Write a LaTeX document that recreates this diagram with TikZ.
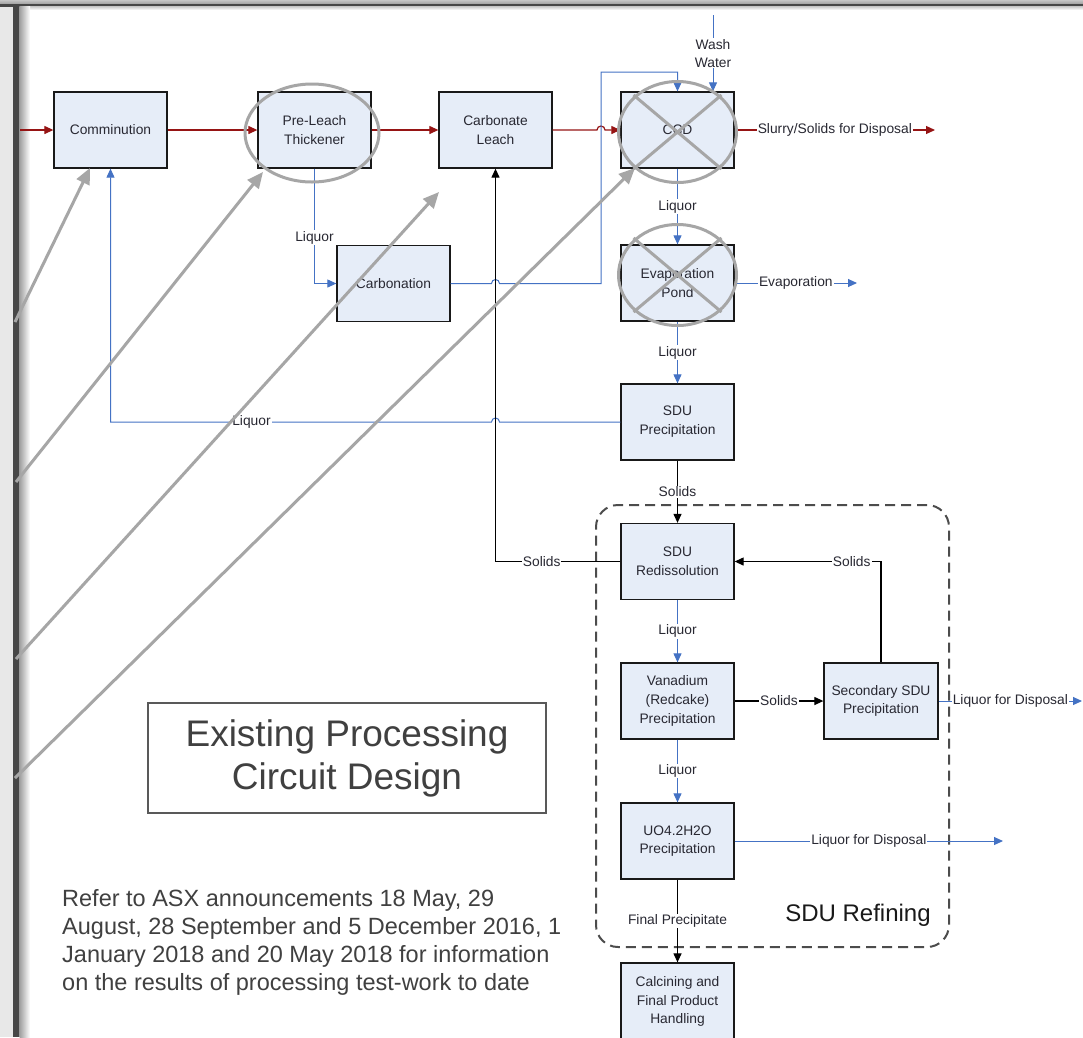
\documentclass[tikz,border=0pt]{standalone}
\usepackage{fontspec}
\setmainfont{Liberation Sans}
\usetikzlibrary{arrows.meta,shapes.geometric}
\definecolor{boxfill}{RGB}{230,237,248}
\definecolor{redc}{RGB}{150,20,20}
\definecolor{bluec}{RGB}{68,114,196}
\definecolor{annotc}{RGB}{166,166,166}
\definecolor{txtc}{RGB}{40,40,50}
\definecolor{gtxtc}{RGB}{64,64,64}
\begin{document}
\begin{tikzpicture}[x=1pt,y=-1pt,
  procbox/.style={draw=black!90, fill=boxfill, line width=1.3pt, minimum width=113pt, minimum height=76pt, inner sep=0pt, align=center, font=\fontsize{13.8}{18.8}\selectfont, text=txtc},
  lbl/.style={fill=white, inner sep=1pt, font=\fontsize{13.8}{18}\selectfont, text=txtc},
  redarrow/.style={draw=redc, line width=1.2pt, -{Triangle[length=9pt,width=8pt]}},
  bluearrow/.style={draw=bluec, line width=1pt, -{Triangle[length=9pt,width=8pt]}},
  blackarrow/.style={draw=black, line width=1.2pt, -{Triangle[length=9pt,width=8pt]}},
  annotline/.style={draw=annotc, line width=3pt},
  annotarrow/.style={draw=annotc, line width=3pt, -{Triangle[length=16pt,width=14pt]}},
  dashbox/.style={draw=black!70, line width=2pt, dash pattern=on 10pt off 6pt, rounded corners=22pt},
]
\useasboundingbox (0,0) rectangle (1083,1037);
\fill[white] (0,0) rectangle (1083,1037);
% window frame
\shade[top color=gray!45, bottom color=gray!75] (0,0) rectangle (1083,4);
\fill[black!72] (0,4) rectangle (1083,6.5);
\shade[top color=gray!40, bottom color=white] (19.5,6.5) rectangle (1083,10);
\fill[black!9] (0,6.5) rectangle (13,1037);
\fill[black!72] (13,6.5) rectangle (19.5,1037);
\shade[left color=gray!75, right color=white] (19.5,6.5) rectangle (30,1037);

% dashed refining group
\node[dashbox, minimum width=353pt, minimum height=442pt] (refbox) at (772.5,726) {};
\node[font=\fontsize{24}{28}\selectfont, text=black!90] (reflbl) at (858,915) {SDU Refining};

% process boxes
\node[procbox] (comm) at (110.5,130) {Comminution};
\node[procbox] (plt) at (314.5,130) {Pre-Leach\\Thickener};
\node[procbox] (cl) at (495.5,130) {Carbonate\\Leach};
\node[procbox] (ccd) at (677.5,130) {CCD};
\node[procbox] (carb) at (393.5,283.5) {Carbonation};
\node[procbox] (evap) at (677.5,283) {Evaporation\\Pond};
\node[procbox] (sdup) at (677.5,422) {SDU\\Precipitation};
\node[procbox] (sdur) at (677.5,561.5) {SDU\\Redissolution};
\node[procbox] (van) at (677.5,701) {Vanadium\\(Redcake)\\Precipitation};
\node[procbox, minimum width=114pt] (sec) at (881,701) {Secondary SDU\\Precipitation};
\node[procbox] (uo4) at (677.5,841) {UO4.2H2O\\Precipitation};
\node[procbox, minimum height=77pt] (calc) at (677.5,1001.5) {Calcining and\\Final Product\\Handling};

% free ends
\coordinate (rin) at (20,130);
\coordinate (slout) at (935,130);
\coordinate (wwtop) at (713,15);
\coordinate (evout) at (857,283);
\coordinate (secout) at (1082,701);
\coordinate (uoout) at (1003,841);

% red slurry line
\draw[redarrow] (rin) -- (comm.west);
\draw[redarrow] (comm.east) -- (plt.west);
\draw[redarrow] (plt.east) -- (cl.west);
\draw[redarrow] (cl.east) -- (597,130) arc[start angle=180,end angle=0,radius=4pt] -- (ccd.west);
\draw[redarrow] (ccd.east) -- node[lbl] (l1) {Slurry/Solids for Disposal} (slout);

% blue liquor lines
\draw[bluearrow] (wwtop) -- node[lbl, align=center] (l2) {Wash\\Water} (wwtop |- ccd.north);
\draw[bluearrow] (carb.east) -- (491.5,283.5) arc[start angle=180,end angle=0,radius=4pt] -- (601,283.5) -- (601,72) -- (677.5,72) -- (ccd.north);
\draw[bluearrow] (plt.south) |- node[lbl, pos=0.3] (l3) {Liquor} (carb.west);
\draw[bluearrow] (ccd.south) -- node[lbl] (l4) {Liquor} (evap.north);
\draw[bluearrow] (evap.east) -- node[lbl] (l5) {Evaporation} (evout);
\draw[bluearrow] (evap.south) -- node[lbl] (l6) {Liquor} (sdup.north);
\draw[bluearrow] (sdup.west) -- (499.5,422) arc[start angle=0,end angle=180,radius=4pt] -- node[lbl, pos=0.63] (l7) {Liquor} (110.5,422) -- (comm.south);
\draw[bluearrow] (sdur.south) -- node[lbl] (l8) {Liquor} (van.north);
\draw[bluearrow] (van.south) -- node[lbl] (l9) {Liquor} (uo4.north);
\draw[bluearrow] (sec.east) -- node[lbl] (l10) {Liquor for Disposal} (secout);
\draw[bluearrow] (uo4.east) -- node[lbl] (l11) {Liquor for Disposal} (uoout);

% black solids lines
\draw[blackarrow] (sdup.south) -- node[lbl] (l12) {Solids} (sdur.north);
\draw[blackarrow] (sdur.west) -| node[lbl, pos=0.315] (l13) {Solids} (cl.south);
\draw[blackarrow] (sec.north) |- node[lbl, pos=0.6] (l14) {Solids} (sdur.east);
\draw[blackarrow] (van.east) -- node[lbl] (l15) {Solids} (sec.west);
\draw[blackarrow] (uo4.south) -- node[lbl] (l16) {Final Precipitate} (calc.north);

% title and note
\node[draw=black!65, line width=1.2pt, minimum width=398pt, minimum height=110pt, align=center, font=\fontsize{37}{43}\selectfont, text=gtxtc] (title) at (347,758) {Existing Processing\\Circuit Design};
\node[anchor=north west, align=left, inner sep=0pt, font=\fontsize{23.5}{28}\selectfont, text=gtxtc] (note) at (62,889) {Refer to ASX announcements 18 May, 29\\August, 28 September and 5 December 2016, 1\\January 2018 and 20 May 2018 for information\\on the results of processing test-work to date};

% grey annotations
\draw[annotline] (312,133) ellipse [x radius=67pt, y radius=49pt];
\draw[annotline] (677.5,132) ellipse [x radius=59pt, y radius=50.5pt];
\draw[annotline] (633.5,95) -- (721.5,169);
\draw[annotline] (721.5,95) -- (633.5,169);
\draw[annotline] (677.5,275) ellipse [x radius=59pt, y radius=50.5pt];
\draw[annotline] (633.5,238) -- (721.5,312);
\draw[annotline] (721.5,238) -- (633.5,312);
\coordinate (a1s) at (15,322);
\coordinate (a1e) at (90,168);
\coordinate (a2s) at (16,482);
\coordinate (a2e) at (263,172);
\coordinate (a3s) at (16,659);
\coordinate (a3e) at (439,192);
\coordinate (a4s) at (15,778);
\coordinate (a4e) at (635,168);
\draw[annotarrow] (a1s) -- (a1e);
\draw[annotarrow] (a2s) -- (a2e);
\draw[annotarrow] (a3s) -- (a3e);
\draw[annotarrow] (a4s) -- (a4e);
\end{tikzpicture}
\end{document}
